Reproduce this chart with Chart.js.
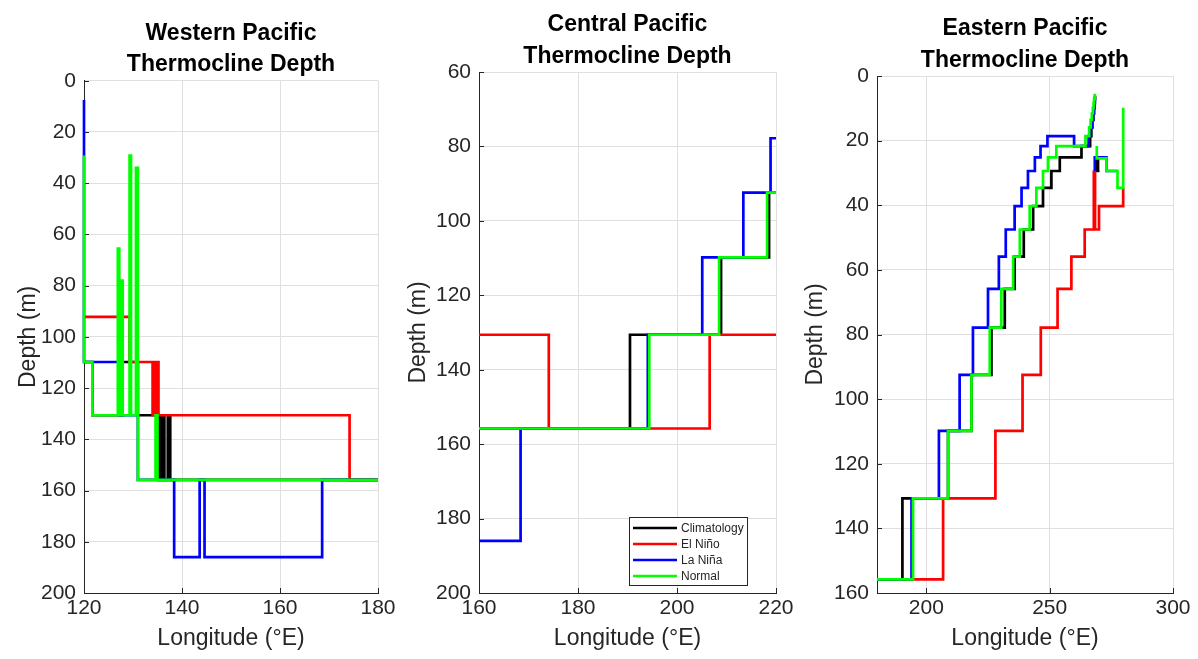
<!DOCTYPE html>
<html>
<head>
<meta charset="utf-8">
<title>Pacific Thermocline Depth</title>
<script src="https://cdn.jsdelivr.net/npm/chart.js@4.4.1/dist/chart.umd.min.js"></script>
<style>
  html, body { margin: 0; padding: 0; background: #ffffff; }
  #wrap { position: relative; width: 1198px; height: 659px; overflow: hidden; }
  #wrap canvas { position: absolute; top: 0; }
</style>
</head>
<body>
<div id="wrap">
  <canvas id="westChart" width="400" height="659" style="left:0px"></canvas>
  <canvas id="centralChart" width="400" height="659" style="left:400px"></canvas>
  <canvas id="eastChart" width="398" height="659" style="left:800px"></canvas>
</div>
<script>
// Thermocline depth vs longitude for three Pacific regions, drawn as stairs.
// Each series is a list of (longitude, depth) change points: the line runs
// flat at the previous depth up to the longitude, then steps to the new depth.
// A null depth breaks the line (gap near the coast in the east panel).

const SERIES_NAMES = ['Climatology', 'El Niño', 'La Niña', 'Normal'];
const SERIES_COLORS = ['#000000', '#ff0000', '#0000ff', '#00ff00'];

// ----- Western Pacific -----
const westClimLon   = [120, 121.7, 127.8, 131.0, 135.2, 135.5, 135.8, 136.1, 136.4, 137.1, 137.6, 180];
const westClimDepth = [109.8, 130.6, 109.8, 130.6, 155.8, 130.6, 155.8, 130.6, 155.8, 130.6, 155.8, 155.8];
const westNinoLon   = [120, 129.3, 134.0, 134.3, 134.6, 134.9, 135.2, 174.2, 180];
const westNinoDepth = [92.2, 109.8, 130.6, 109.8, 130.6, 109.8, 130.6, 155.8, 155.8];
const westNinaLon   = [120, 120, 127.3, 131.0, 138.4, 143.6, 144.6, 168.6, 180];
const westNinaDepth = [7.5, 109.8, 130.6, 155.8, 186.0, 155.8, 186.0, 155.8, 155.8];
const westNormLon   = [120, 120, 121.7, 126.9, 127.2, 127.6, 127.9, 129.3, 129.6, 130.6, 131.0, 134.6, 135.0, 180];
const westNormDepth = [29.2, 109.8, 130.6, 65.5, 130.6, 78.0, 130.6, 29.2, 130.6, 34.0, 155.8, 130.6, 155.8, 155.8];

// ----- Central Pacific -----
const centClimLon   = [160, 190.5, 208.9, 218.6, 220];
const centClimDepth = [155.8, 130.6, 109.8, 92.4, 92.4];
const centNinoLon   = [160, 174.1, 206.6, 220];
const centNinoDepth = [130.6, 155.8, 130.6, 130.6];
const centNinaLon   = [160, 168.4, 194.1, 205.1, 213.4, 218.9, 220];
const centNinaDepth = [186.0, 155.8, 130.6, 109.8, 92.4, 77.8, 77.8];
const centNormLon   = [160, 194.4, 208.5, 218.2, 220];
const centNormDepth = [155.8, 130.6, 109.8, 92.4, 92.4];

// ----- Eastern Pacific -----
const eastClimLon   = [180, 190.3, 208.8, 218.3, 226.4, 231.8, 235.8, 239.5, 243.3, 247.3, 250.7, 254.1, 262.9,
                       266.4, 266.9, 267.3, 267.7, 268.0, 268.2, 268.3, 268.4, 268.4, 268.4, 268.8, 269.2, 269.6, 270.2];
const eastClimDepth = [155.8, 130.7, 109.8, 92.5, 77.9, 65.9, 55.9, 47.5, 40.3, 34.6, 29.4, 25.2, 21.7,
                       18.6, 15.9, 13.6, 11.6, 9.9, 8.4, 7.2, 6.1, null, 25.2, 29.4, 25.2, 29.4, 29.4];
const eastNinoLon   = [180, 206.8, 228.0, 239.0, 246.4, 253.2, 258.8, 264.2, 267.9, 268.4, 270.0, 279.8];
const eastNinoDepth = [155.8, 130.7, 109.8, 92.5, 77.9, 65.9, 55.9, 47.5, 29.7, 47.5, 40.3, 34.6];
const eastNinaLon   = [180, 194.0, 205.1, 213.5, 218.9, 225.0, 229.4, 232.2, 235.8, 238.6, 241.2, 244.0, 246.3, 249.1,
                       259.9, 265.8, 266.6, 267.2, 267.6, 267.9, 268.1, 268.3, 268.3, 268.3, 268.3, 273.0, 277.5];
const eastNinaDepth = [155.8, 130.7, 109.8, 92.5, 77.9, 65.9, 55.9, 47.5, 40.3, 34.6, 29.4, 25.2, 21.7, 18.6,
                       21.7, 18.6, 15.9, 13.6, 11.6, 9.9, 8.4, 6.5, null, 29.4, 25.2, 29.4, 29.4];
const eastNormLon   = [180, 194.6, 208.8, 218.3, 225.7, 230.4, 235.2, 237.9, 241.9, 244.6, 247.3, 249.3, 252.7,
                       264.5, 266.0, 266.6, 267.1, 267.5, 267.8, 268.0, 268.3, 268.3, 269.1, 269.1, 273.0, 277.5, 279.8];
const eastNormDepth = [155.8, 130.7, 109.8, 92.5, 77.9, 65.9, 55.9, 47.5, 40.3, 34.6, 29.4, 25.2, 21.7,
                       18.6, 15.9, 13.6, 11.6, 9.9, 8.4, 7.2, 5.5, null, 21.7, 25.5, 29.4, 34.6, 9.8];

// ----- Axis ticks -----
const westXTicks = [120, 140, 160, 180];
const westYTicks = [0, 20, 40, 60, 80, 100, 120, 140, 160, 180, 200];
const centXTicks = [160, 180, 200, 220];
const centYTicks = [60, 80, 100, 120, 140, 160, 180, 200];
const eastXTicks = [200, 250, 300];
const eastYTicks = [0, 20, 40, 60, 80, 100, 120, 140, 160];

(function () {
  'use strict';

  const FONT = "'Liberation Sans', Arial, Helvetica, sans-serif";
  const AXIS_COLOR = '#262626';
  const GRID_COLOR = '#dfdfdf';
  const LINE_W = 2.7;

  Chart.defaults.font.family = FONT;
  Chart.defaults.color = AXIS_COLOR;

  function toPoints(lons, depths) {
    return lons.map(function (lon, i) { return { x: lon, y: depths[i] }; });
  }

  // MATLAB-style tick marks pointing into the plot (left and bottom axes only).
  const inwardTicks = {
    id: 'inwardTicks',
    beforeDatasetsDraw: function (chart) {
      const ctx = chart.ctx;
      const area = chart.chartArea;
      const xs = chart.scales.x;
      const ys = chart.scales.y;
      ctx.save();
      ctx.strokeStyle = AXIS_COLOR;
      ctx.lineWidth = 1;
      ctx.beginPath();
      ys.ticks.forEach(function (t) {
        const y = Math.round(ys.getPixelForValue(t.value)) + 0.5;
        ctx.moveTo(area.left, y);
        ctx.lineTo(area.left + 5, y);
      });
      xs.ticks.forEach(function (t) {
        const x = Math.round(xs.getPixelForValue(t.value)) + 0.5;
        ctx.moveTo(x, area.bottom);
        ctx.lineTo(x, area.bottom - 5);
      });
      ctx.stroke();
      ctx.restore();
    }
  };

  // Boxed legend in the lower right of the plot (added to the central panel only).
  const boxLegend = {
    id: 'boxLegend',
    afterDraw: function (chart) {
      const ctx = chart.ctx;
      const area = chart.chartArea;
      const boxW = 118, boxH = 68;
      const boxX = Math.round(area.right - 29 - boxW);
      const boxY = Math.round(area.bottom - 8 - boxH);
      ctx.save();
      ctx.fillStyle = '#ffffff';
      ctx.fillRect(boxX, boxY, boxW, boxH);
      ctx.strokeStyle = AXIS_COLOR;
      ctx.lineWidth = 1;
      ctx.strokeRect(boxX + 0.5, boxY + 0.5, boxW, boxH);
      ctx.font = '12px ' + FONT;
      ctx.textBaseline = 'middle';
      ctx.textAlign = 'left';
      SERIES_NAMES.forEach(function (name, i) {
        const y = boxY + 11 + i * 16;
        ctx.strokeStyle = SERIES_COLORS[i];
        ctx.lineWidth = LINE_W;
        ctx.beginPath();
        ctx.moveTo(boxX + 4, y);
        ctx.lineTo(boxX + 48, y);
        ctx.stroke();
        ctx.fillStyle = AXIS_COLOR;
        ctx.fillText(name, boxX + 52, y + 0.5);
      });
      ctx.restore();
    }
  };

  function buildChart(canvasId, p) {
    const datasets = SERIES_NAMES.map(function (name, i) {
      return {
        label: name,
        data: toPoints(p.lons[i], p.depths[i]),
        borderColor: SERIES_COLORS[i],
        backgroundColor: SERIES_COLORS[i],
        borderWidth: LINE_W,
        pointRadius: 0,
        pointHoverRadius: 0,
        stepped: 'before',
        spanGaps: false,
        fill: false,
        borderJoinStyle: 'miter',
        // lines on the plot edges must not be cut in half
        clip: 4,
        // later series sit on top, as in the original plot order
        order: SERIES_NAMES.length - i
      };
    });

    const tickFont = { size: 21 };
    const labelFont = { size: 23 };
    const extraPlugins = p.legend ? [inwardTicks, boxLegend] : [inwardTicks];

    return new Chart(document.getElementById(canvasId), {
      type: 'line',
      data: { datasets: datasets },
      plugins: extraPlugins,
      options: {
        responsive: false,
        devicePixelRatio: 1,
        animation: false,
        events: [],
        layout: { padding: { left: 0, right: p.padRight, top: 0, bottom: 0 } },
        scales: {
          x: {
            type: 'linear',
            position: 'bottom',
            min: p.xMin,
            max: p.xMax,
            afterBuildTicks: function (scale) {
              scale.ticks = p.xTicks.map(function (v) { return { value: v }; });
            },
            afterFit: function (scale) {
              scale.height = 66;
              scale.paddingLeft = 0;
              scale.paddingRight = 0;
            },
            ticks: { font: tickFont, color: AXIS_COLOR, padding: 3, maxRotation: 0, autoSkip: false },
            grid: { color: GRID_COLOR, lineWidth: 1, drawTicks: false },
            border: { color: AXIS_COLOR, width: 1 },
            title: {
              display: true,
              text: 'Longitude (°E)',
              font: labelFont,
              color: AXIS_COLOR,
              padding: { top: 0, bottom: 7 }
            }
          },
          y: {
            type: 'linear',
            position: 'left',
            reverse: true,
            min: p.yMin,
            max: p.yMax,
            afterBuildTicks: function (scale) {
              scale.ticks = p.yTicks.map(function (v) { return { value: v }; });
            },
            afterFit: function (scale) {
              scale.width = p.yAxisW;
              scale.paddingTop = 0;
              scale.paddingBottom = 0;
            },
            ticks: { font: tickFont, color: AXIS_COLOR, padding: 8 },
            grid: { color: GRID_COLOR, lineWidth: 1, drawTicks: false },
            border: { color: AXIS_COLOR, width: 1 },
            title: {
              display: true,
              text: 'Depth (m)',
              font: labelFont,
              color: AXIS_COLOR,
              padding: { top: p.yTitlePad, bottom: 0 }
            }
          }
        },
        plugins: {
          legend: { display: false },
          tooltip: { enabled: false },
          title: {
            display: true,
            fullSize: false,
            text: [p.title, 'Thermocline Depth'],
            color: '#000000',
            font: { size: 23, weight: 'bold', lineHeight: '31.5px' },
            padding: { top: p.titleTop, bottom: p.titleBottom }
          }
        }
      }
    });
  }

  buildChart('westChart', {
    title: 'Western Pacific',
    lons: [westClimLon, westNinoLon, westNinaLon, westNormLon],
    depths: [westClimDepth, westNinoDepth, westNinaDepth, westNormDepth],
    xMin: 120, xMax: 180, xTicks: westXTicks,
    yMin: 0, yMax: 200, yTicks: westYTicks,
    yAxisW: 84, padRight: 22, yTitlePad: 15,
    titleTop: 17.75, titleBottom: 0
  });

  buildChart('centralChart', {
    title: 'Central Pacific',
    lons: [centClimLon, centNinoLon, centNinaLon, centNormLon],
    depths: [centClimDepth, centNinoDepth, centNinaDepth, centNormDepth],
    xMin: 160, xMax: 220, xTicks: centXTicks,
    yMin: 60, yMax: 200, yTicks: centYTicks,
    yAxisW: 79, padRight: 24, yTitlePad: 5,
    titleTop: 9, titleBottom: 0,
    legend: true
  });

  buildChart('eastChart', {
    title: 'Eastern Pacific',
    lons: [eastClimLon, eastNinoLon, eastNinaLon, eastNormLon],
    depths: [eastClimDepth, eastNinoDepth, eastNinaDepth, eastNormDepth],
    xMin: 180, xMax: 300, xTicks: eastXTicks,
    yMin: 0, yMax: 160, yTicks: eastYTicks,
    yAxisW: 77, padRight: 25, yTitlePad: 2,
    titleTop: 13, titleBottom: 0
  });
})();
</script>
</body>
</html>
